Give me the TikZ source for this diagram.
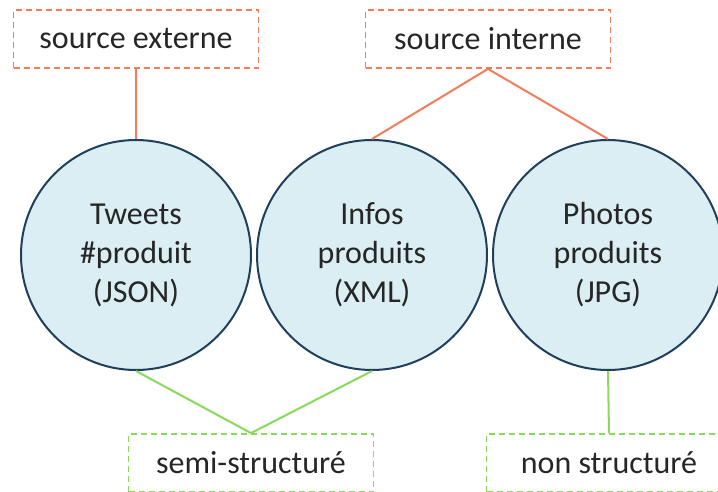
\documentclass[tikz,border=0pt]{standalone}
\usepackage{fontspec}
\setmainfont{Carlito}
\usepackage{xcolor}
\usepackage{tikz}
\usetikzlibrary{positioning}
\definecolor{sourceline}{HTML}{F47C5C}
\definecolor{typeline}{HTML}{88D95C}
\definecolor{donneefill}{HTML}{DAEEF3}
\definecolor{donneedraw}{HTML}{1F3F5A}
\definecolor{textgray}{HTML}{262626}
\tikzset{x=0.5pt, y=-0.5pt,
         node distance=118pt,
         every node/.style={font=\fontsize{16}{19.5}\selectfont, text=textgray},
         donnee/.style={circle, draw=donneedraw, line width=1pt, fill=donneefill,
                        minimum size=115pt, inner sep=0pt, align=center},
         etiquette/.style={rectangle, dashed, dash pattern=on 3pt off 2pt, line width=0.9pt,
                           minimum width=122.5pt, minimum height=29pt, inner sep=0pt},
         source/.style={etiquette, draw=sourceline},
         typedonnee/.style={etiquette, draw=typeline},
         lien source/.style={draw=sourceline, line width=1pt},
         lien type/.style={draw=typeline, line width=1pt},
         }
\begin{document}
\begin{tikzpicture}
    \useasboundingbox (0,0) rectangle (718,492);

    \node[donnee] (tweets) at (136,255) {Tweets\\\#produit\\(JSON)};
    \node[donnee, right of=tweets] (infos) {Infos\\produits\\(XML)};
    \node[donnee, right of=infos] (photos) {Photos\\produits\\(JPG)};

    \node[source] (externe) at (136,39) {source externe};
    \node[source] (interne) at (488,39) {source interne};
    \node[typedonnee] (semi) at (251,463) {semi-structuré};
    \node[typedonnee] (non) at (609,463) {non structuré};

    \draw[lien source] (externe.south) -- (tweets.north)
                       (interne.south) -- (infos.north)
                       (interne.south) -- (photos.north);
    \draw[lien type]   (tweets.south) -- (semi.north)
                       (infos.south) -- (semi.north)
                       (photos.south) -- (non.north);
\end{tikzpicture}
\end{document}
